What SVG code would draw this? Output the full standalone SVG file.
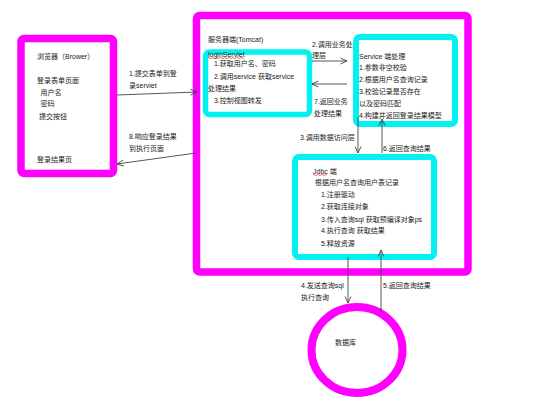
<svg xmlns="http://www.w3.org/2000/svg" width="534" height="408" viewBox="0 0 534 408">
<defs>
<style>
.mg{fill:#fff;stroke:#ff00ff;stroke-width:7.5}
.cy{fill:#fff;stroke:#00f2f2;stroke-width:6}
text{font-family:"Liberation Sans","Noto Sans CJK SC",sans-serif;font-size:7px;fill:#222}
.ln{stroke:#444;stroke-width:0.9;fill:none;marker-end:url(#ah)}
.sq{stroke:#e53030;stroke-width:0.7;fill:none}
</style>
<marker id="ah" viewBox="0 0 8 8" refX="7.5" refY="4" markerWidth="8" markerHeight="8" markerUnits="userSpaceOnUse" orient="auto">
<path d="M1,1 L7.5,4 L1,7" fill="none" stroke="#444" stroke-width="0.9"/>
</marker>
</defs>
<rect width="534" height="408" fill="#fff"/>
<g id="browser">
<rect class="mg" x="21" y="38.5" width="92.5" height="135" rx="3"/>
<text x="37" y="58.5">浏览器（Brower）</text>
<text x="37" y="82.5">登录表单页面</text>
<text x="40.5" y="94.5">用户名</text>
<text x="40.5" y="106">密码</text>
<text x="39" y="118.5">提交按钮</text>
<text x="37" y="162">登录结果页</text>
</g>
<g id="server">
<rect class="mg" x="196.5" y="15.5" width="271.5" height="256.5" rx="3"/>
<text x="208" y="42">服务器端(Tomcat)</text>
</g>
<g id="loginServlet">
<rect class="cy" x="205.5" y="52" width="104" height="62.5" rx="4" style="stroke-width:5.5"/>
<text x="208" y="56.5">loginServlet</text>
<path class="sq" d="M208,58 q1,-1 2,0 t2,0 t2,0 t2,0 t2,0 t2,0 t2,0 t2,0 t2,0 t2,0 t2,0 t2,0 t2,0 t2,0 t2,0 t2,0 t2,0 t2,0"/>
<text x="214" y="66">1.获取用户名、密码</text>
<text x="214" y="78.5">2.调用service 获取service</text>
<text x="208" y="91">处理结果</text>
<text x="214" y="102.5">3.控制视图转发</text>
</g>
<g id="service">
<rect class="cy" x="356" y="37" width="99" height="87" rx="4"/>
<text x="359" y="58.5">Service 端处理</text>
<text x="359" y="70">1.参数非空校验</text>
<text x="359" y="81.5">2.根据用户名查询记录</text>
<text x="359" y="93.5">3.校验记录是否存在</text>
<text x="359" y="106">以及密码匹配</text>
<text x="359" y="117.5">4.构建并返回登录结果模型</text>
</g>
<g id="jdbc">
<rect class="cy" x="295" y="157" width="139" height="100" rx="4"/>
<text x="313" y="173.5">Jdbc 端</text>
<path class="sq" d="M313,175 q1,-1 2,0 t2,0 t2,0 t2,0 t2,0 t2,0 t2,0"/>
<text x="315" y="185">根据用户名查询用户表记录</text>
<text x="321" y="197">1.注册驱动</text>
<text x="321" y="208.5">2.获取连接对象</text>
<text x="321" y="222">3.传入查询sql 获取预编译对象ps</text>
<text x="321" y="233">4.执行查询 获取结果</text>
<text x="321" y="246">5.释放资源</text>
</g>
<g id="database">
<ellipse cx="357" cy="350" rx="45.5" ry="43" fill="#fff" stroke="#ff00ff" stroke-width="8"/>
<text x="335" y="345">数据库</text>
</g>
<g id="connectors">
<line class="ln" x1="117" y1="95" x2="197" y2="92"/>
<text x="129" y="76">1.提交表单到登</text>
<text x="129" y="87.5">录serviet</text>
<line class="ln" x1="196" y1="153" x2="117" y2="164"/>
<text x="129" y="139">8.响应登录结果</text>
<text x="129" y="150.5">到执行页面</text>
<line class="ln" x1="312" y1="61" x2="347" y2="61"/>
<text x="312" y="47">2.调用业务处</text>
<text x="312" y="58">理层</text>
<line class="ln" x1="347" y1="84" x2="312" y2="84"/>
<text x="314" y="104">7.返回业务</text>
<text x="314" y="116">处理结果</text>
<line class="ln" x1="358" y1="117" x2="358" y2="153"/>
<text x="300" y="140">3.调用数据访问层</text>
<line class="ln" x1="382" y1="153" x2="382" y2="119"/>
<text x="383" y="151">6.返回查询结果</text>
<line class="ln" x1="348" y1="257" x2="348" y2="303"/>
<text x="301" y="288">4.发送查询sql</text>
<text x="301" y="300">执行查询</text>
<line class="ln" x1="381" y1="312" x2="381" y2="250"/>
<text x="383" y="288">5.返回查询结果</text>
</g>
</svg>
